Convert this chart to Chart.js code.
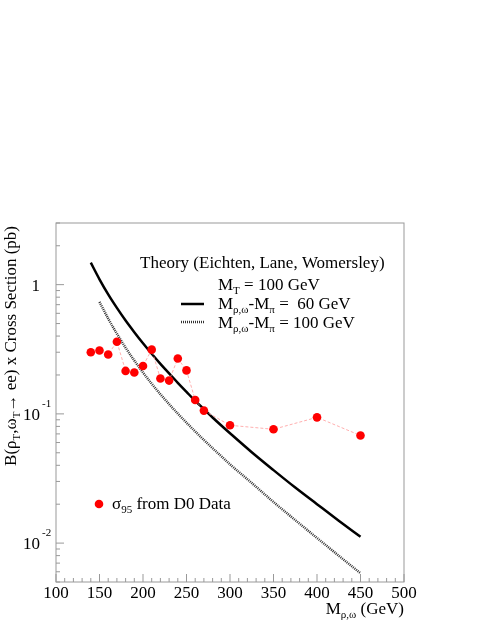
<!DOCTYPE html>
<html>
<head>
<meta charset="utf-8">
<script src="https://cdn.jsdelivr.net/npm/chart.js@4.4.1/dist/chart.umd.min.js"></script>
<style>
  html, body { margin: 0; padding: 0; background: #fff; overflow: hidden; }
  #wrap { width: 485px; height: 627px; }
</style>
</head>
<body>
<div id="wrap"><canvas id="chartArea" width="485" height="627"></canvas></div>
<script>
// D0 95% CL limits
const massD0 = [140, 150, 160, 170, 180, 190, 200, 210, 220, 230, 240, 250, 260, 270, 300, 350, 400, 450];
const sigmaD0 = [0.300, 0.309, 0.288, 0.362, 0.215, 0.209, 0.235, 0.314, 0.188, 0.181, 0.268, 0.217, 0.128, 0.106, 0.0816, 0.076, 0.094, 0.068];

// theory, M(rho,omega) - M(pi) = 60 GeV
const massTh60 = [140, 150, 160, 170, 180, 190, 200, 210, 220, 230, 240, 250, 260, 270, 280, 290, 300, 325, 350, 375, 400, 425, 450];
const theory60 = [1.48, 1.10, 0.841, 0.661, 0.528, 0.429, 0.352, 0.292, 0.244, 0.206, 0.174, 0.148, 0.126, 0.109, 0.0938, 0.0813, 0.0708, 0.0505, 0.0367, 0.0269, 0.0200, 0.0149, 0.0112];

// theory, M(rho,omega) - M(pi) = 100 GeV
const massTh100 = [150, 160, 170, 180, 190, 200, 210, 220, 230, 240, 250, 260, 270, 280, 290, 300, 325, 350, 375, 400, 425, 450];
const theory100 = [0.735, 0.546, 0.417, 0.325, 0.259, 0.209, 0.171, 0.142, 0.119, 0.1005, 0.0855, 0.0731, 0.0628, 0.0542, 0.0470, 0.0407, 0.0292, 0.0208, 0.01507, 0.01096, 0.00799, 0.00585];

const xTickLabels = [100, 150, 200, 250, 300, 350, 400, 450, 500];
const yTickValues = [1, 0.1, 0.01];
const yTickLabels = [["1", ""], ["10", "-1"], ["10", "-2"]];

const FONT = "'Liberation Serif', 'DejaVu Serif', serif";

function pts(xs, ys) {
    return xs.map((x, i) => ({ x: x, y: ys[i] }));
}

// texte avec indices / exposants : parts = [[texte, 0|1|2]] (0 normal, 1 indice, 2 exposant)
function richWidth(ctx, parts, size, small) {
    let w = 0;
    parts.forEach(p => {
        ctx.font = (p[1] ? small : size) + "px " + FONT;
        w += ctx.measureText(p[0]).width;
    });
    return w;
}
function drawRich(ctx, x, y, parts, size, small, align) {
    let w = richWidth(ctx, parts, size, small);
    if (align === "right") x -= w;
    if (align === "center") x -= w / 2;
    ctx.textAlign = "left";
    ctx.textBaseline = "alphabetic";
    parts.forEach(p => {
        ctx.font = (p[1] ? small : size) + "px " + FONT;
        let dy = p[1] === 1 ? 4 : (p[1] === 2 ? -8 : 0);
        ctx.fillText(p[0], x, y + dy);
        x += ctx.measureText(p[0]).width;
    });
}

const decorations = {
    id: "decorations",
    afterDraw(chart) {
        const ctx = chart.ctx;
        const a = chart.chartArea;
        const xs = chart.scales.x;
        const ys = chart.scales.y;
        ctx.save();

        // cadre
        ctx.strokeStyle = "#999";
        ctx.lineWidth = 1;
        ctx.strokeRect(a.left, a.top, a.right - a.left, a.bottom - a.top);

        // graduations x (vers l'intérieur)
        for (let v = 100; v <= 500; v += 10) {
            let px = xs.getPixelForValue(v);
            let len = (v % 50 === 0) ? 8 : 4;
            ctx.beginPath();
            ctx.moveTo(px, a.bottom);
            ctx.lineTo(px, a.bottom - len);
            ctx.stroke();
        }
        // graduations y (log)
        for (let e = -3; e <= 0; e++) {
            for (let m = 1; m <= 9; m++) {
                let v = m * Math.pow(10, e);
                if (v < ys.min * 0.999 || v > ys.max * 1.001) continue;
                let py = ys.getPixelForValue(v);
                let len = (m === 1) ? 8 : 4;
                ctx.beginPath();
                ctx.moveTo(a.left, py);
                ctx.lineTo(a.left + len, py);
                ctx.stroke();
            }
        }

        ctx.fillStyle = "#000";
        // étiquettes x
        ctx.font = "17px " + FONT;
        ctx.textAlign = "center";
        ctx.textBaseline = "alphabetic";
        xTickLabels.forEach(v => {
            ctx.fillText(String(v), xs.getPixelForValue(v), a.bottom + 16);
        });
        // étiquettes y
        yTickValues.forEach((v, i) => {
            let py = ys.getPixelForValue(v);
            let lab = yTickLabels[i];
            ctx.font = "17px " + FONT;
            ctx.textAlign = "right";
            ctx.fillText(lab[0], 40, py + 6);
            if (lab[1]) {
                ctx.font = "11px " + FONT;
                ctx.textAlign = "left";
                ctx.fillText(lab[1], 42, py - 7);
            }
        });

        // titre x
        drawRich(ctx, a.right, 614, [["M", 0], ["ρ,ω", 1], [" (GeV)", 0]], 17, 11, "right");

        // titre y (vertical)
        ctx.save();
        ctx.translate(16, 346);
        ctx.rotate(-Math.PI / 2);
        drawRich(ctx, 0, 0, [["B(ρ", 0], ["T", 1], [",ω", 0], ["T", 1], ["→ ee) x Cross Section (pb)", 0]], 17, 11, "center");
        ctx.restore();

        // légende théorie
        drawRich(ctx, 140, 268, [["Theory (Eichten, Lane, Womersley)", 0]], 17, 11, "left");
        drawRich(ctx, 218, 290, [["M", 0], ["T", 1], [" = 100 GeV", 0]], 17, 11, "left");
        drawRich(ctx, 218, 309, [["M", 0], ["ρ,ω", 1], ["-M", 0], ["π", 1], [" =  60 GeV", 0]], 17, 11, "left");
        drawRich(ctx, 218, 328, [["M", 0], ["ρ,ω", 1], ["-M", 0], ["π", 1], [" = 100 GeV", 0]], 17, 11, "left");

        ctx.strokeStyle = "#000";
        ctx.lineWidth = 2.5;
        ctx.setLineDash([]);
        ctx.beginPath();
        ctx.moveTo(181, 304);
        ctx.lineTo(204, 304);
        ctx.stroke();
        ctx.strokeStyle = "#333";
        ctx.lineWidth = 2.5;
        ctx.setLineDash([1, 1]);
        ctx.beginPath();
        ctx.moveTo(181, 322);
        ctx.lineTo(204, 322);
        ctx.stroke();
        ctx.setLineDash([]);

        // légende D0
        ctx.fillStyle = "#ff0000";
        ctx.beginPath();
        ctx.arc(99, 504, 4.3, 0, Math.PI * 2);
        ctx.fill();
        ctx.fillStyle = "#000";
        drawRich(ctx, 112, 509, [["σ", 0], ["95", 1], [" from D0 Data", 0]], 17, 11, "left");

        ctx.restore();
    }
};

const canvas = document.getElementById("chartArea");
const myChart = new Chart(canvas, {
    type: "line",
    data: {
        datasets: [
            {
                label: "D0",
                data: pts(massD0, sigmaD0),
                borderColor: "#ff9a9a",
                borderWidth: 0.8,
                borderDash: [3, 2],
                pointRadius: 4.3,
                pointBackgroundColor: "#ff0000",
                pointBorderWidth: 0,
                tension: 0
            },
            {
                label: "60 GeV",
                data: pts(massTh60, theory60),
                borderColor: "#000",
                borderWidth: 2.5,
                pointRadius: 0,
                cubicInterpolationMode: "monotone"
            },
            {
                label: "100 GeV",
                data: pts(massTh100, theory100),
                borderColor: "#333",
                borderWidth: 2.5,
                borderDash: [1, 1],
                pointRadius: 0,
                cubicInterpolationMode: "monotone"
            }
        ]
    },
    options: {
        responsive: false,
        animation: false,
        devicePixelRatio: 1,
        layout: { padding: { left: 56, right: 81, top: 223, bottom: 45 } },
        plugins: { legend: { display: false }, tooltip: { enabled: false } },
        scales: {
            x: { type: "linear", min: 100, max: 500, display: false },
            y: { type: "logarithmic", min: 0.005, max: 3, display: false }
        }
    },
    plugins: [decorations]
});
</script>
</body>
</html>
